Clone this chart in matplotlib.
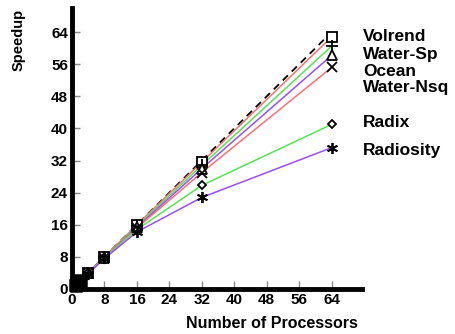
import matplotlib
matplotlib.use("Agg")
import matplotlib.pyplot as plt

plt.rcParams['font.family'] = ['Liberation Sans', 'DejaVu Sans']
plt.rcParams['font.weight'] = 'bold'

procs = [1, 2, 4, 8, 16, 32, 64]
ideal = [1, 2, 4, 8, 16, 32, 64]
names = ["Volrend", "Water-Sp", "Ocean", "Water-Nsq", "Radix", "Radiosity"]
speedups = [
    [1, 2, 4.0, 8.0, 16.0, 31.6, 62.8],
    [1, 2, 4.0, 7.9, 15.7, 30.8, 60.5],
    [1, 2, 3.9, 7.8, 15.4, 30.0, 58.2],
    [1, 2, 3.9, 7.8, 15.2, 29.0, 55.2],
    [1, 2, 3.9, 7.7, 14.8, 25.8, 41.0],
    [1, 2, 3.8, 7.6, 14.2, 22.8, 35.2],
]
label_y = [63.0, 58.5, 54.2, 50.2, 41.5, 34.5]
xticks = [0, 8, 16, 24, 32, 40, 48, 56, 64]
yticks = [0, 8, 16, 24, 32, 40, 48, 56, 64]

colors = ["#ff6f6f", "#4fe84f", "#9a4cff", "#ff6f6f", "#4fe84f", "#9a4cff"]
markers = ["s", "+", "^", "x", "D", (6, 2, 0)]
msizes = [7, 9, 7, 7, 4.5, 8]

fig = plt.figure(figsize=(4.56, 3.34), dpi=100)
ax = fig.add_axes([0.158, 0.135, 0.636, 0.841])

ax.plot(procs, ideal, color="black", ls=(0, (4, 3)), lw=1.3, zorder=2)
for i in range(len(names)):
    ax.plot(procs, speedups[i], color=colors[i], lw=1.1, zorder=3)
    ax.plot(procs, speedups[i], ls="none", marker=markers[i], ms=msizes[i],
            mfc="white" if markers[i] in ("s", "^", "D") else "none",
            mec="black", mew=1.3, zorder=4)
    # the 1- and 2-processor points pile up into a solid block
    ax.plot(procs[:2], speedups[i][:2], ls="none", marker="s", ms=9,
            mfc="black", mec="black", zorder=5, clip_on=False)
    ax.text(71.8, label_y[i], names[i], fontsize=12.5, fontweight="bold",
            va="center", ha="left", clip_on=False)

ax.set_xlim(0, 71.5)
ax.set_ylim(0, 70)
ax.set_xticks(xticks)
ax.set_yticks(yticks)
ax.tick_params(direction="in", length=6, width=1, color="#888888",
               labelsize=11, pad=3)
for lab in ax.get_xticklabels() + ax.get_yticklabels():
    lab.set_fontweight("bold")
for s in ["top", "right"]:
    ax.spines[s].set_visible(False)
for s in ["left", "bottom"]:
    ax.spines[s].set_linewidth(3.5)

fig.text(0.04, 0.88, "Speedup", rotation=90, fontsize=10.5, fontweight="bold",
         ha="center", va="center")
fig.text(0.785, 0.03, "Number of Processors", fontsize=11.5,
         fontweight="bold", ha="right", va="center")

fig.savefig("out.png", dpi=100)
